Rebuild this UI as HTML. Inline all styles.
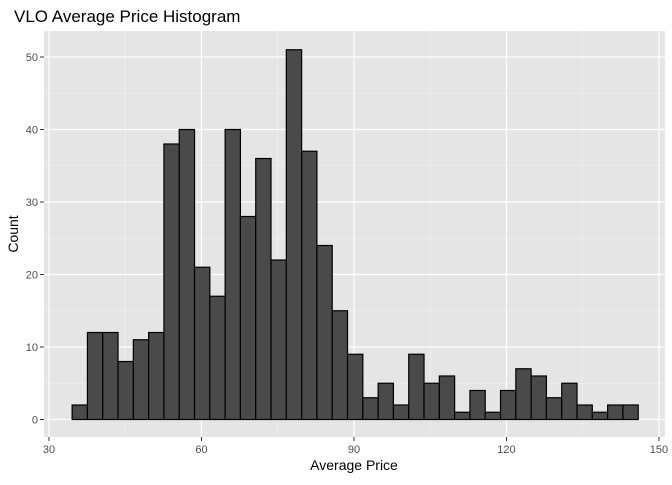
<!DOCTYPE html>
<html><head><meta charset="utf-8"><style>
body{margin:0;background:#fff;font-family:"Liberation Sans",sans-serif;}
</style></head><body>
<svg id="c" width="672" height="480" xmlns="http://www.w3.org/2000/svg">
<text x="14" y="22" font-size="17" fill="#000">VLO Average Price Histogram</text>
<rect x="44" y="31" width="621" height="406" fill="#e5e5e5"/>
<g id="grid"></g><g id="bars"></g><g id="axes"></g>
<text x="354" y="470" font-size="14" text-anchor="middle" fill="#000">Average Price</text>
<text transform="translate(18,234) rotate(-90)" font-size="14" text-anchor="middle" fill="#000">Count</text>
</svg>
<script>
const counts=[2,12,12,8,11,12,38,40,21,17,40,28,36,22,51,37,24,15,9,3,5,2,9,5,6,1,4,1,4,7,6,3,5,2,1,2,2];
const binStart=34.55;
const binWidth=3.01;
const xTicks=[30,60,90,120,150];
const yTicks=[0,10,20,30,40,50];
const ns="http://www.w3.org/2000/svg";
function xs(v){return 49+(v-30)*5.083;}
function ys(v){return 419.5-v*7.25;}
function mk(t,a,p){const e=document.createElementNS(ns,t);for(const k in a)e.setAttribute(k,a[k]);p.appendChild(e);return e;}
const grid=document.getElementById('grid'),bars=document.getElementById('bars'),axes=document.getElementById('axes');
for(let i=0;i<xTicks.length-1;i++){const m=(xTicks[i]+xTicks[i+1])/2;
const g=mk('line',{x1:xs(m),x2:xs(m),y1:31,y2:437,stroke:'#f2f2f2','stroke-width':0.6},grid);

}
for(let i=0;i<yTicks.length-1;i++){const m=(yTicks[i]+yTicks[i+1])/2;
const g=mk('line',{x1:44,x2:665,y1:ys(m),y2:ys(m),stroke:'#f2f2f2','stroke-width':0.6},grid);

}
xTicks.forEach(t=>{const g=mk('line',{x1:xs(t),x2:xs(t),y1:31,y2:437,stroke:'#fff','stroke-width':1.2},grid);


const k=mk('line',{x1:xs(t),x2:xs(t),y1:437,y2:441,stroke:'#333','stroke-width':1},axes);


const l=mk('text',{x:xs(t),y:453,'font-size':11,'text-anchor':'middle',fill:'#4d4d4d'},axes);l.textContent=t;

});
yTicks.forEach(t=>{const g=mk('line',{x1:44,x2:665,y1:ys(t),y2:ys(t),stroke:'#fff','stroke-width':1.2},grid);


const k=mk('line',{x1:40,x2:44,y1:ys(t),y2:ys(t),stroke:'#333','stroke-width':1},axes);


const l=mk('text',{x:38,y:ys(t)+4,'font-size':11,'text-anchor':'end',fill:'#4d4d4d'},axes);l.textContent=t;

});
counts.forEach((c,i)=>{const x0=xs(binStart+i*binWidth),x1=xs(binStart+(i+1)*binWidth);
const r=mk('rect',{x:x0,y:ys(c),width:x1-x0,height:ys(0)-ys(c),fill:'#4a4a4a',stroke:'#000','stroke-width':1.2},bars);

});
</script>
</body></html>
